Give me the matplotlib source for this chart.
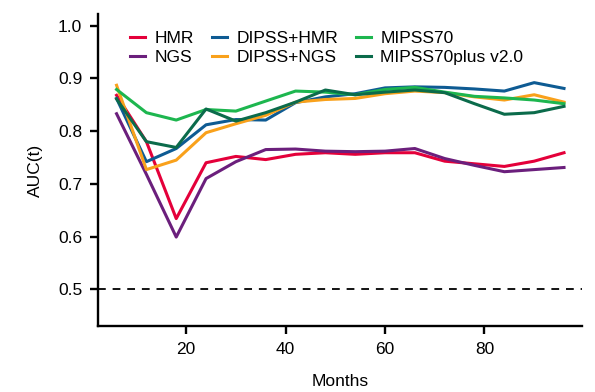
import matplotlib
matplotlib.use("Agg")
import matplotlib.pyplot as plt
from matplotlib import font_manager

# ---------------------------------------------------------------------------
# Data (AUC(t))
# ---------------------------------------------------------------------------
months = [6, 12, 18, 24, 30, 36, 42, 48, 54, 60, 66, 72, 78, 84, 90, 96]

hmr = [0.868, 0.780, 0.634, 0.740, 0.752, 0.746, 0.756, 0.759, 0.756, 0.759,
       0.759, 0.743, 0.738, 0.733, 0.743, 0.759]
ngs = [0.833, 0.718, 0.599, 0.710, 0.742, 0.765, 0.766, 0.762, 0.761, 0.762,
       0.767, 0.748, 0.735, 0.723, 0.727, 0.731]
dipss_hmr = [0.862, 0.742, 0.767, 0.812, 0.822, 0.821, 0.854, 0.865, 0.871, 0.882,
             0.884, 0.883, 0.880, 0.876, 0.892, 0.881]
dipss_ngs = [0.887, 0.727, 0.745, 0.797, 0.814, 0.830, 0.855, 0.860, 0.862, 0.871,
             0.876, 0.873, 0.865, 0.859, 0.869, 0.855]
mipss70 = [0.879, 0.835, 0.821, 0.841, 0.838, 0.857, 0.876, 0.874, 0.869, 0.879,
           0.883, 0.874, 0.866, 0.863, 0.859, 0.852]
mipss70plus = [0.861, 0.780, 0.769, 0.842, 0.819, 0.835, 0.855, 0.878, 0.869, 0.874,
               0.878, 0.873, 0.852, 0.832, 0.835, 0.847]

labels = ["HMR", "NGS", "DIPSS+HMR", "DIPSS+NGS", "MIPSS70", "MIPSS70plus v2.0"]
series = [hmr, ngs, dipss_hmr, dipss_ngs, mipss70, mipss70plus]
colores = ["#E4003A", "#6B1F7C", "#0E5B93", "#F9A11B", "#1DB64F", "#0B6B4B"]

y_ticks = [0.5, 0.6, 0.7, 0.8, 0.9, 1.0]
x_ticks = [20, 40, 60, 80]

# ---------------------------------------------------------------------------
# Fonts
# ---------------------------------------------------------------------------
instaladas = {f.name for f in font_manager.fontManager.ttflist}
fuente = "Liberation Sans" if "Liberation Sans" in instaladas else "DejaVu Sans"
fuente_estrecha = fuente
for cand in ["Liberation Sans Narrow", "DejaVu Sans Condensed"]:
    if cand in instaladas:
        fuente_estrecha = cand
        break
plt.rcParams["font.family"] = [fuente, "DejaVu Sans"]

# ---------------------------------------------------------------------------
# Figure
# ---------------------------------------------------------------------------
fig = plt.figure(figsize=(5.95, 3.92), dpi=100)
ax = fig.add_axes([0.165, 0.168, 0.813, 0.796])

for vals, lab, col in zip(series, labels, colores):
    ax.plot(months, vals, color=col, linewidth=2.2, label=lab)

ax.axhline(0.5, color="black", linestyle=(0, (4.3, 3.8)), linewidth=1.3)

ax.set_xlim(2.3, 99.6)
ax.set_ylim(0.43, 1.022)
ax.set_xticks(x_ticks)
ax.set_yticks(y_ticks)
ax.set_yticklabels([f"{t:.1f}" for t in y_ticks])

for side in ["top", "right"]:
    ax.spines[side].set_visible(False)
for side in ["left", "bottom"]:
    ax.spines[side].set_linewidth(1.7)
ax.tick_params(axis="both", direction="out", length=6, width=1.7,
               labelsize=12.5, pad=5.5)

ax.set_xlabel("Months", fontsize=12.5, family=fuente_estrecha, labelpad=12.5)
ax.set_ylabel("AUC(t)", fontsize=12.5, family=fuente_estrecha, labelpad=11)

ax.legend(ncol=3, frameon=False, fontsize=12.5, loc="upper left",
          bbox_to_anchor=(0.051, 0.968), handlelength=0.87, handletextpad=0.54,
          columnspacing=1.04, labelspacing=0.2, borderaxespad=0.0)

fig.patch.set_facecolor("white")
plt.savefig("out.png", dpi=100)
plt.close()
